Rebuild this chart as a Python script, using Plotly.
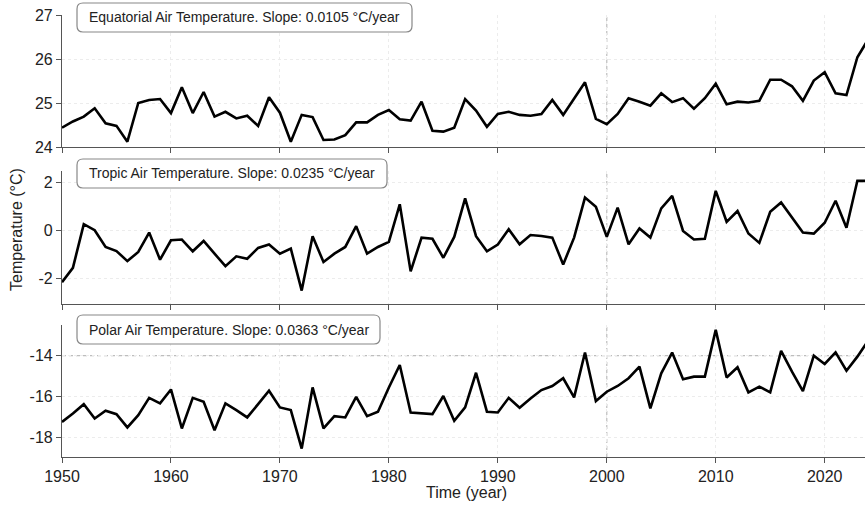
import plotly.graph_objects as go
from plotly.subplots import make_subplots

years = list(range(1950, 2025))

equatorial = [24.44, 24.58, 24.69, 24.88, 24.54, 24.48, 24.12, 25.00, 25.07, 25.09,
              24.77, 25.36, 24.77, 25.25, 24.69, 24.80, 24.65, 24.71, 24.48, 25.13,
              24.78, 24.12, 24.73, 24.68, 24.16, 24.17, 24.27, 24.56, 24.56, 24.73,
              24.84, 24.63, 24.60, 25.03, 24.37, 24.35, 24.44, 25.09, 24.83, 24.46,
              24.75, 24.80, 24.73, 24.71, 24.75, 25.07, 24.73, 25.11, 25.47, 24.64,
              24.52, 24.75, 25.11, 25.03, 24.94, 25.22, 25.02, 25.11, 24.87, 25.11,
              25.44, 24.97, 25.03, 25.01, 25.05, 25.53, 25.53, 25.38, 25.05, 25.51,
              25.70, 25.22, 25.18, 26.04, 26.45]

tropic = [-2.17, -1.57, 0.25, 0.00, -0.70, -0.87, -1.29, -0.91, -0.10, -1.23,
          -0.42, -0.39, -0.88, -0.45, -0.98, -1.50, -1.09, -1.19, -0.74, -0.60,
          -0.98, -0.77, -2.52, -0.25, -1.33, -0.98, -0.70, 0.17, -0.98, -0.70,
          -0.49, 1.08, -1.72, -0.31, -0.36, -1.15, -0.28, 1.33, -0.25, -0.88,
          -0.60, 0.04, -0.59, -0.20, -0.24, -0.31, -1.43, -0.31, 1.36, 0.98,
          -0.28, 0.94, -0.59, 0.07, -0.31, 0.91, 1.43, -0.03, -0.39, -0.36,
          1.64, 0.35, 0.80, -0.14, -0.53, 0.77, 1.16, 0.53, -0.10, -0.14,
          0.31, 1.23, 0.10, 2.06, 2.06]

polar = [-17.25, -16.84, -16.38, -17.08, -16.70, -16.87, -17.52, -16.92, -16.07, -16.34,
         -15.66, -17.57, -16.07, -16.26, -17.66, -16.34, -16.67, -17.03, -16.38, -15.72,
         -16.54, -16.67, -18.56, -15.56, -17.57, -16.97, -17.03, -16.02, -16.97, -16.75,
         -15.56, -14.46, -16.79, -16.84, -16.87, -15.98, -17.20, -16.54, -14.84, -16.75,
         -16.79, -16.07, -16.56, -16.10, -15.69, -15.49, -15.11, -16.05, -13.85, -16.23,
         -15.77, -15.49, -15.11, -14.54, -16.59, -14.87, -13.85, -15.16, -15.03, -15.03,
         -12.74, -15.07, -14.57, -15.80, -15.52, -15.80, -13.77, -14.79, -15.74, -14.00,
         -14.41, -13.84, -14.74, -14.05, -13.26]

panel_titles = ["Equatorial Air Temperature. Slope: 0.0105 °C/year",
                "Tropic Air Temperature. Slope: 0.0235 °C/year",
                "Polar Air Temperature. Slope: 0.0363 °C/year"]

x_ticks = [1950, 1960, 1970, 1980, 1990, 2000, 2010, 2020]
y_ticks = [[24, 25, 26, 27], [-2, 0, 2], [-18, -16, -14]]
y_ticktext = [["24", "25", "26", "27"], ["-2", "0", "2"], ["-18", "-16", "-14"]]
y_ranges = [[24, 27], [-3.08, 2.47], [-18.97, -12.5]]
x_range = [1950, 2023.7]
ref_year = 2000
polar_ref = -14

W, H = 865, 505
ML, MR, MT, MB = 62, 0, 15, 48
PW, PH = W - ML - MR, H - MT - MB

def px_x(px):
    return (px - ML) / PW

def px_y(py):
    return (H - MB - py) / PH

domains = [[px_y(147), px_y(15)], [px_y(304), px_y(171)], [px_y(457), px_y(325)]]

fig = make_subplots(rows=3, cols=1, shared_xaxes=False)
series = [equatorial, tropic, polar]
FONT = "Liberation Sans, Arial, sans-serif"

for i, s in enumerate(series):
    r = i + 1
    fig.add_trace(go.Scatter(x=years, y=s, mode="lines",
                             line=dict(color="black", width=2.6),
                             showlegend=False, hoverinfo="skip"), row=r, col=1)
    fig.update_xaxes(range=x_range, tickvals=x_ticks, ticktext=[str(t) for t in x_ticks],
                     showticklabels=(r == 3), ticks="outside", ticklen=5, tickcolor="#555",
                     showline=True, linecolor="#555", linewidth=1.2,
                     showgrid=True, gridcolor="#ececec", griddash="dot", gridwidth=1,
                     zeroline=False, automargin=False,
                     tickfont=dict(size=16, color="#222", family=FONT),
                     row=r, col=1)
    fig.update_yaxes(range=y_ranges[i], tickvals=y_ticks[i], ticktext=y_ticktext[i],
                     ticks="outside", ticklen=5, tickcolor="#555",
                     showline=True, linecolor="#555", linewidth=1.2,
                     showgrid=True, gridcolor="#ececec", griddash="dot", gridwidth=1,
                     zeroline=False, automargin=False,
                     tickfont=dict(size=16, color="#222", family=FONT),
                     domain=domains[i], row=r, col=1)
    xs = "x" if r == 1 else f"x{r}"
    ys = "y" if r == 1 else f"y{r}"
    fig.add_shape(type="line", xref=xs, yref=f"{ys} domain", x0=ref_year, x1=ref_year,
                  y0=0, y1=1, line=dict(color="#bdbdbd", width=1.2, dash="4px,3px"), layer="below")

fig.add_shape(type="line", xref="x3 domain", yref="y3", x0=0, x1=1, y0=polar_ref, y1=polar_ref,
              line=dict(color="#bdbdbd", width=1.2, dash="4px,3px"), layer="below")

boxes = [(77, 412, 3, 32), (77, 387, 159, 188), (77, 380, 315, 344)]
rad = 6
for (bx0, bx1, by0, by1), title in zip(boxes, panel_titles):
    x0, x1 = px_x(bx0), px_x(bx1)
    yt, yb = px_y(by0), px_y(by1)
    rx, ry = rad / PW, rad / PH
    path = (f"M {x0+rx},{yt} L {x1-rx},{yt} Q {x1},{yt} {x1},{yt-ry} "
            f"L {x1},{yb+ry} Q {x1},{yb} {x1-rx},{yb} L {x0+rx},{yb} "
            f"Q {x0},{yb} {x0},{yb+ry} L {x0},{yt-ry} Q {x0},{yt} {x0+rx},{yt} Z")
    fig.add_shape(type="path", path=path, xref="paper", yref="paper",
                  fillcolor="white", line=dict(color="#888", width=1.2), layer="above")
    fig.add_annotation(text=title, xref="paper", yref="paper",
                       x=px_x((bx0 + bx1) / 2), y=px_y((by0 + by1) / 2),
                       xanchor="center", yanchor="middle", showarrow=False,
                       font=dict(size=14, color="#222", family=FONT))

fig.add_annotation(text="Temperature (°C)", xref="paper", yref="paper",
                   x=px_x(16), y=px_y(230), textangle=-90, showarrow=False,
                   xanchor="center", yanchor="middle",
                   font=dict(size=16, color="#222", family=FONT))
fig.add_annotation(text="Time (year)", xref="paper", yref="paper",
                   x=px_x(466), y=px_y(492), showarrow=False,
                   xanchor="center", yanchor="middle",
                   font=dict(size=16, color="#222", family=FONT))

fig.update_layout(width=W, height=H, margin=dict(l=ML, r=MR, t=MT, b=MB, autoexpand=False),
                  plot_bgcolor="white", paper_bgcolor="white",
                  font=dict(family=FONT, color="#222"))

fig.write_html("out.html", config={"displayModeBar": False},
               post_script="document.body.style.margin='0';document.body.style.overflow='hidden';")
